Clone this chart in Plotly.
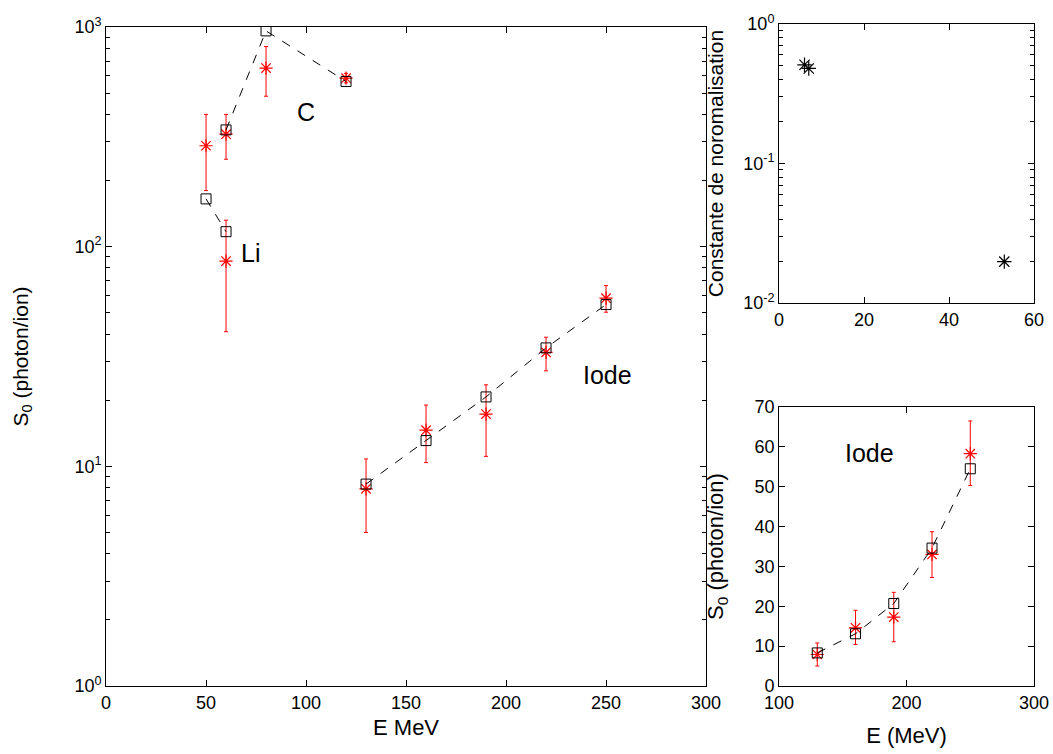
import plotly.graph_objects as go

# ---- data ----
li_model_E = [50, 60]
li_model_S = [165, 117]
li_exp_E = [60]
li_exp_S = [86]
li_exp_hi = [132]
li_exp_lo = [41]

c_model_E = [60, 80, 120]
c_model_S = [340, 960, 565]
c_exp_E = [50, 60, 80, 120]
c_exp_S = [288, 325, 650, 585]
c_exp_hi = [400, 400, 815, 615]
c_exp_lo = [180, 250, 484, 557]

i_model_E = [130, 160, 190, 220, 250]
i_model_S = [8.3, 13.1, 20.7, 34.6, 54.5]
i_exp_E = [130, 160, 190, 220, 250]
i_exp_S = [7.9, 14.6, 17.3, 33.0, 58.3]
i_exp_hi = [10.8, 19.0, 23.5, 38.7, 66.5]
i_exp_lo = [5.0, 10.4, 11.1, 27.2, 50.3]

norm_Z = [6, 7, 53]
norm_K = [0.51, 0.48, 0.0198]

main_xticks = [0, 50, 100, 150, 200, 250, 300]
main_ytickvals = [1, 10, 100, 1000]
main_yticktext = ["10<sup>0</sup>", "10<sup>1</sup>", "10<sup>2</sup>", "10<sup>3</sup>"]
norm_ytickvals = [0.01, 0.1, 1]
norm_yticktext = ["10<sup>-2</sup>", "10<sup>-1</sup>", "10<sup>0</sup>"]
main_minor = [d * k for d in (1, 10, 100) for k in range(2, 10)]
norm_minor = [d * k for d in (0.01, 0.1) for k in range(2, 10)]

FONT = "Liberation Sans, Arial, sans-serif"
RED = "#ff0000"

fig = go.Figure()


def err(vals, hi, lo):
    return dict(type="data", symmetric=False,
                array=[h - v for h, v in zip(hi, vals)],
                arrayminus=[v - l for v, l in zip(vals, lo)],
                color=RED, thickness=1, width=2)


def add_group(mE, mS, eE, eS, ehi, elo, xa, ya):
    fig.add_trace(go.Scatter(x=eE, y=eS, mode="markers", xaxis=xa, yaxis=ya,
                             error_y=err(eS, ehi, elo),
                             marker=dict(symbol="asterisk-open", size=11, color=RED,
                                         line=dict(color=RED, width=1.2)),
                             showlegend=False))
    fig.add_trace(go.Scatter(x=mE, y=mS, mode="lines+markers", xaxis=xa, yaxis=ya,
                             line=dict(color="black", width=1, dash="dash"),
                             marker=dict(symbol="square-open", size=10, color="black",
                                         line=dict(color="black", width=1)),
                             showlegend=False))


add_group(li_model_E, li_model_S, li_exp_E, li_exp_S, li_exp_hi, li_exp_lo, "x", "y")
add_group(c_model_E, c_model_S, c_exp_E, c_exp_S, c_exp_hi, c_exp_lo, "x", "y")
add_group(i_model_E, i_model_S, i_exp_E, i_exp_S, i_exp_hi, i_exp_lo, "x", "y")
add_group(i_model_E, i_model_S, i_exp_E, i_exp_S, i_exp_hi, i_exp_lo, "x3", "y3")

fig.add_trace(go.Scatter(x=norm_Z, y=norm_K, mode="markers", xaxis="x2", yaxis="y2",
                         marker=dict(symbol="asterisk-open", size=12, color="black",
                                     line=dict(color="black", width=1.2)),
                         showlegend=False))

# invisible helper traces so the minor-tick overlay axes are drawn
for xa, ya in (("x", "y4"), ("x", "y6"), ("x2", "y5"), ("x2", "y7")):
    fig.add_trace(go.Scatter(x=[None], y=[None], xaxis=xa, yaxis=ya, showlegend=False,
                             hoverinfo="skip"))

axis_common = dict(showline=True, linecolor="black", linewidth=1, mirror="ticks",
                   ticks="inside", ticklen=6, tickcolor="black", showgrid=False,
                   zeroline=False, automargin=False,
                   tickfont=dict(family=FONT, size=18, color="black"))
minor_axis = dict(showline=False, ticks="inside", ticklen=4, tickcolor="black",
                  showgrid=False, zeroline=False, automargin=False,
                  showticklabels=False, type="log")

fig.update_layout(
    template="none",
    width=1053, height=754, margin=dict(l=0, r=0, t=0, b=0),
    paper_bgcolor="white", plot_bgcolor="white",
    font=dict(family=FONT, color="black"),
    xaxis=dict(domain=[0.1007, 0.6705], range=[0, 300], tickvals=main_xticks,
               title=dict(text="E MeV", font=dict(size=22), standoff=8), anchor="y",
               **axis_common),
    yaxis=dict(domain=[0.0902, 0.9642], type="log", range=[0, 3],
               tickvals=main_ytickvals, ticktext=main_yticktext,
               title=dict(text="S<sub>0</sub> (photon/ion)", font=dict(size=21), standoff=40),
               anchor="x", **axis_common),
    yaxis4=dict(overlaying="y", anchor="x", side="left", range=[0, 3],
                tickvals=main_minor, **minor_axis),
    yaxis6=dict(overlaying="y", anchor="x", side="right", range=[0, 3],
                tickvals=main_minor, **minor_axis),
    xaxis2=dict(domain=[0.7398, 0.982], range=[0, 60], tickvals=[0, 20, 40, 60],
                anchor="y2", **axis_common),
    yaxis2=dict(domain=[0.5981, 0.9682], type="log", range=[-2, 0],
                tickvals=norm_ytickvals, ticktext=norm_yticktext,
                title=dict(text="Constante de noromalisation", font=dict(size=21), standoff=13),
                anchor="x2", **axis_common),
    yaxis5=dict(overlaying="y2", anchor="x2", side="left", range=[-2, 0],
                tickvals=norm_minor, **minor_axis),
    yaxis7=dict(overlaying="y2", anchor="x2", side="right", range=[-2, 0],
                tickvals=norm_minor, **minor_axis),
    xaxis3=dict(domain=[0.7398, 0.982], range=[100, 300], tickvals=[100, 200, 300],
                title=dict(text="E (MeV)", font=dict(size=22), standoff=16),
                anchor="y3", **axis_common),
    yaxis3=dict(domain=[0.0902, 0.4602], range=[0, 70],
                tickvals=[0, 10, 20, 30, 40, 50, 60, 70],
                title=dict(text="S<sub>0</sub> (photon/ion)", font=dict(size=22), standoff=24),
                anchor="x3", **axis_common),
)

annos = [
    dict(x=100, y=2.613, text="C", xref="x", yref="y"),
    dict(x=72, y=1.971, text="Li", xref="x", yref="y"),
    dict(x=250.5, y=1.416, text="Iode", xref="x", yref="y"),
    dict(x=171, y=58.5, text="Iode", xref="x3", yref="y3"),
]
for a in annos:
    fig.add_annotation(**a, showarrow=False, font=dict(family=FONT, size=25, color="black"))

fig.write_html("out.html", config={"displayModeBar": False},
               post_script="document.body.style.margin='0';")
